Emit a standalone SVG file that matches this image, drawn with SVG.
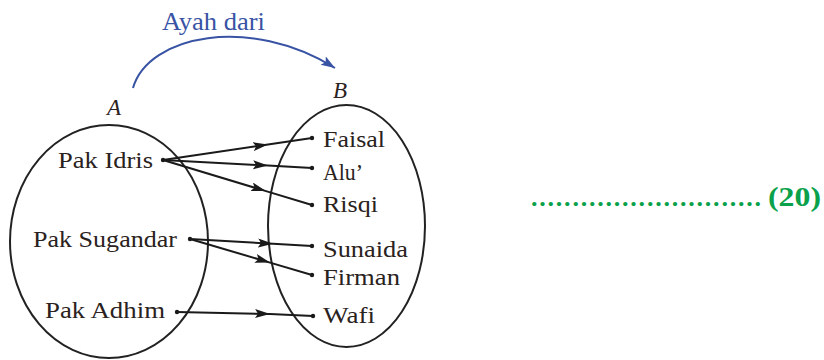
<svg xmlns="http://www.w3.org/2000/svg" width="824" height="360" viewBox="0 0 824 360">
<style>
.lbl{font-size:23px;fill:#2a2220}
.it{font-size:23px;font-style:italic;fill:#2a2220}
.set{fill:none;stroke:#222;stroke-width:2}
.conn{fill:none;stroke:#1a1a1a;stroke-width:2;marker-mid:url(#ah)}
.dot{fill:#1a1a1a}
.green{font-weight:bold;fill:#0aa14a}
</style>
<defs>
<marker id="ah" markerUnits="userSpaceOnUse" markerWidth="18" markerHeight="10" refX="15" refY="4.5" orient="auto">
<path d="M0,0 L15,4.5 L0,9 L3,4.5 Z" fill="#1a1a1a"/>
</marker>
<marker id="ahb" markerUnits="userSpaceOnUse" markerWidth="16" markerHeight="12" refX="14" refY="5" orient="auto">
<path d="M0,0 L14,5 L0,10 L3,5 Z" fill="#3953a4"/>
</marker>
</defs>
<g font-family="Liberation Serif, LiberationSerif, Tinos, Times New Roman, Times, Nimbus Roman, FreeSerif, serif">
<g id="relation">
<path d="M133,88 C148,35 250,15 335,68" fill="none" stroke="#3953a4" stroke-width="2" marker-end="url(#ahb)"/>
<text x="162" y="30" textLength="103" lengthAdjust="spacingAndGlyphs" font-size="25" fill="#3953a4">Ayah dari</text>
</g>
<g id="setA">
<ellipse class="set" cx="109" cy="241.5" rx="99" ry="116.5"/>
<text class="it" x="107" y="115">A</text>
</g>
<g id="setB">
<ellipse class="set" cx="346.5" cy="226" rx="78.5" ry="121"/>
<text class="it" x="333" y="98">B</text>
</g>
<g id="pak-idris"><text class="lbl" x="58" y="168" textLength="95" lengthAdjust="spacingAndGlyphs">Pak Idris</text><circle class="dot" cx="163" cy="160" r="2.2"/></g>
<g id="pak-sugandar"><text class="lbl" x="33" y="247" textLength="144" lengthAdjust="spacingAndGlyphs">Pak Sugandar</text><circle class="dot" cx="190" cy="239" r="2.2"/></g>
<g id="pak-adhim"><text class="lbl" x="45" y="318" textLength="120" lengthAdjust="spacingAndGlyphs">Pak Adhim</text><circle class="dot" cx="177" cy="312" r="2.2"/></g>
<g id="faisal"><circle class="dot" cx="312" cy="138" r="2.2"/><text class="lbl" x="323" y="147" textLength="62" lengthAdjust="spacingAndGlyphs">Faisal</text></g>
<g id="alu"><circle class="dot" cx="312" cy="168" r="2.2"/><text class="lbl" x="323" y="180" textLength="40" lengthAdjust="spacingAndGlyphs">Alu’</text></g>
<g id="risqi"><circle class="dot" cx="312" cy="205" r="2.2"/><text class="lbl" x="323" y="212" textLength="55" lengthAdjust="spacingAndGlyphs">Risqi</text></g>
<g id="sunaida"><circle class="dot" cx="312" cy="246" r="2.2"/><text class="lbl" x="323" y="257" textLength="85" lengthAdjust="spacingAndGlyphs">Sunaida</text></g>
<g id="firman"><circle class="dot" cx="312" cy="275" r="2.2"/><text class="lbl" x="323" y="285" textLength="77" lengthAdjust="spacingAndGlyphs">Firman</text></g>
<g id="wafi"><circle class="dot" cx="313" cy="316" r="2.2"/><text class="lbl" x="323" y="323" textLength="52" lengthAdjust="spacingAndGlyphs">Wafi</text></g>
<g id="connectors">
<path class="conn" d="M163,160 L268,144.5 L312,138"/>
<path class="conn" d="M163,160 L268,165.6 L312,168"/>
<path class="conn" d="M163,160 L266,191.1 L312,205"/>
<path class="conn" d="M190,239 L273,243.8 L312,246"/>
<path class="conn" d="M190,239 L270,262.6 L312,275"/>
<path class="conn" d="M177,312 L270,314.1 L313,316"/>
</g>
<g id="number">
<text class="green" x="531" y="206" font-size="26" textLength="230" lengthAdjust="spacing">............................</text>
<text class="green" x="768" y="206" font-size="27" textLength="53" lengthAdjust="spacingAndGlyphs">(20)</text>
</g>
</g>
</svg>
